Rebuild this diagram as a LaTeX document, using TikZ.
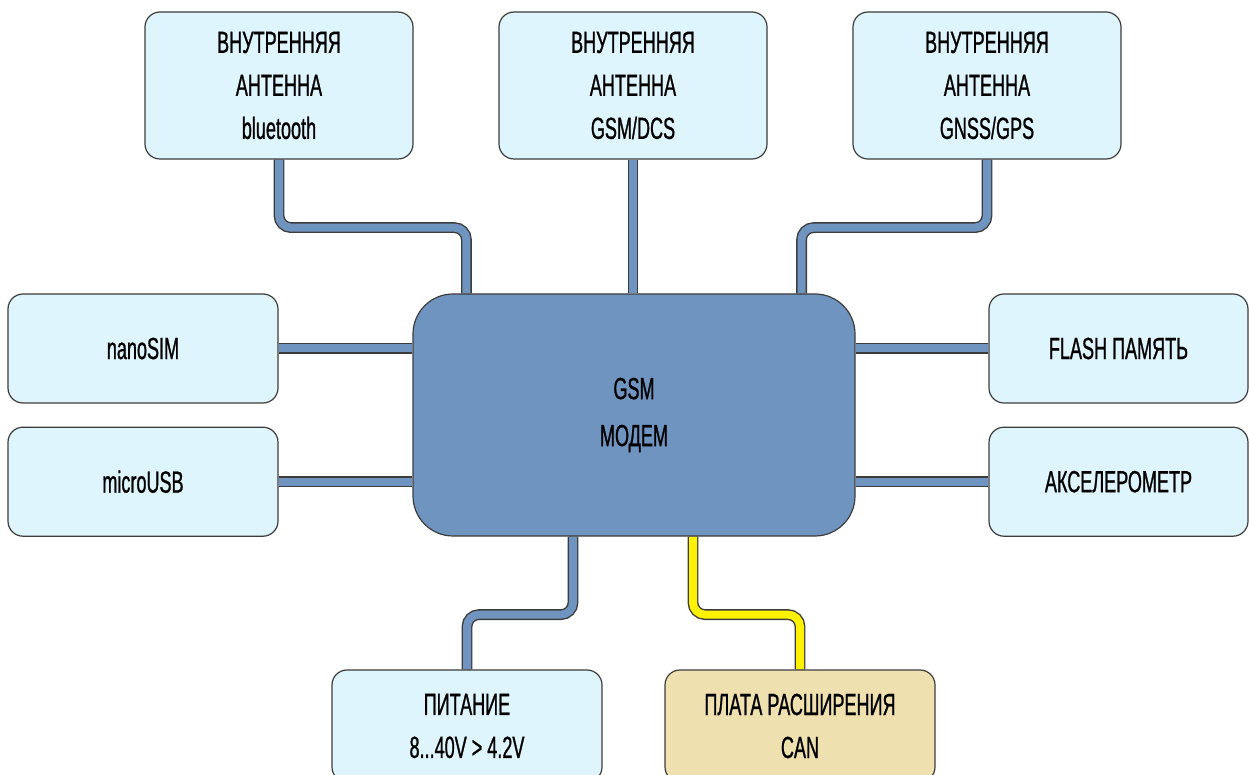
\documentclass[tikz,border=0pt]{standalone}
\usepackage{fontspec}
\setmainfont{Liberation Sans}[FakeStretch=0.59,FakeBold=0.8]
\usetikzlibrary{positioning}
\definecolor{boxblue}{HTML}{DFF5FD}
\definecolor{modemblue}{HTML}{7094C0}
\definecolor{canbeige}{HTML}{EEE0AF}
\definecolor{canyellow}{HTML}{FFF200}
\definecolor{edgegray}{HTML}{3C3C3C}

\begin{document}
\begin{tikzpicture}[x=0.5pt,y=-0.5pt]
\tikzstyle{block} = [draw=edgegray,line width=0.6pt,fill=boxblue,rounded corners=7.5pt,align=center,font=\fontsize{15.3}{21.5}\selectfont,inner sep=0pt]
\tikzstyle{top} = [block,minimum width=134pt,minimum height=73.5pt]
\tikzstyle{side} = [block,minimum width=135pt,minimum height=54.5pt]
\tikzstyle{sider} = [block,minimum width=129.5pt,minimum height=54.5pt]
\tikzstyle{bottom} = [block,minimum width=135pt,minimum height=56pt]
\tikzstyle{modem} = [block,fill=modemblue,rounded corners=20pt,minimum width=221pt,minimum height=121pt,font=\fontsize{15.3}{23.5}\selectfont]
\tikzstyle{wire} = [draw=edgegray,line width=0.7pt,double=modemblue,double distance=4pt,rounded corners=6pt]
\tikzstyle{canwire} = [wire,double=canyellow]

\pgfdeclarelayer{background}
\pgfsetlayers{background,main}

\useasboundingbox (0,0) rectangle (1249,775);

\node[modem] (gsm) at (634,415) {GSM\\МОДЕМ};

\node[top] (bt) at (279,85.5) {ВНУТРЕННЯЯ\\АНТЕННА\\bluetooth};
\node[top] (dcs) at (633,85.5) {ВНУТРЕННЯЯ\\АНТЕННА\\GSM/DCS};
\node[top] (gps) at (987,85.5) {ВНУТРЕННЯЯ\\АНТЕННА\\GNSS/GPS};

\node[side] (sim) at (143,348.5) {nanoSIM};
\node[side,below=11.5pt of sim] (usb) {microUSB};
\node[sider] (flash) at (1118.5,348.5) {FLASH ПАМЯТЬ};
\node[sider,below=11.5pt of flash] (acc) {АКСЕЛЕРОМЕТР};

\node[bottom] (pwr) at (467,726) {ПИТАНИЕ\\8...40V > 4.2V};
\node[bottom,fill=canbeige] (can) at (800,726) {ПЛАТА РАСШИРЕНИЯ\\CAN};

\begin{pgfonlayer}{background}
\draw[wire] (bt.south) -- ++(0,68) -| ([shift={(54,0)}]gsm.north west);
\draw[wire] (dcs.south) -- (dcs.south |- gsm.north);
\draw[wire] (gps.south) -- ++(0,68) -| ([shift={(-54,0)}]gsm.north east);

\draw[wire] (sim.east) -- (sim.east -| gsm.west);
\draw[wire] (usb.east) -- (usb.east -| gsm.west);
\draw[wire] (flash.west) -- (flash.west -| gsm.east);
\draw[wire] (acc.west) -- (acc.west -| gsm.east);

\draw[wire] ([shift={(-61,0)}]gsm.south) -- ++(0,78) -| (pwr.north);
\draw[canwire] ([shift={(59,0)}]gsm.south) -- ++(0,78) -| (can.north);
\end{pgfonlayer}

\end{tikzpicture}
\end{document}
